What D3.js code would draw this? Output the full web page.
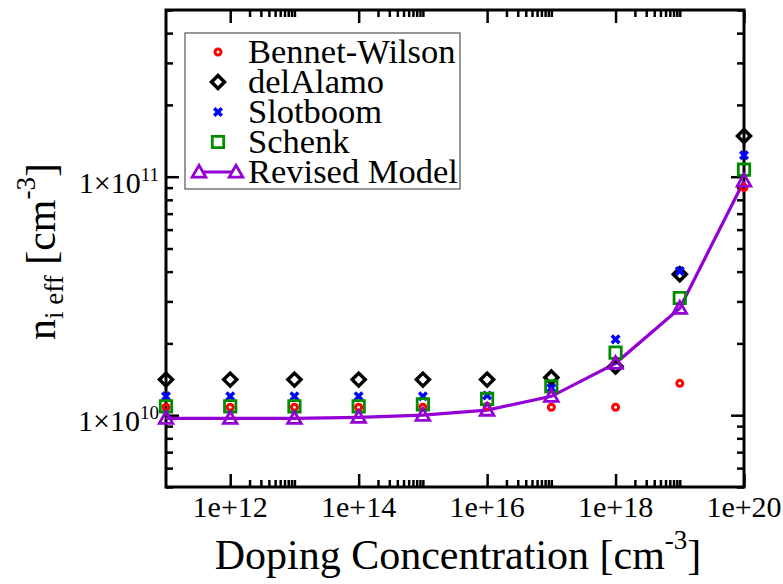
<!DOCTYPE html>
<html>
<head>
<meta charset="utf-8">
<script src="https://cdn.jsdelivr.net/npm/d3@7"></script>
<style>
  body { margin: 0; background: #fff; }
  text { font-family: "Liberation Serif", "Times New Roman", serif; fill: #000; }
</style>
</head>
<body>
<svg id="chart" width="783" height="584"></svg>
<script>
// doping concentration (cm^-3)
var doping = [1e11, 1e12, 1e13, 1e14, 1e15, 1e16, 1e17, 1e18, 1e19, 1e20];

// n_i eff values for each model
var bennetWilson = [1.08e10, 1.08e10, 1.08e10, 1.08e10, 1.08e10, 1.09e10, 1.08e10, 1.08e10, 1.36e10, 9.0e10];
var delAlamo     = [1.41e10, 1.41e10, 1.41e10, 1.41e10, 1.41e10, 1.41e10, 1.44e10, 1.60e10, 3.90e10, 1.48e11];
var slotboom     = [1.20e10, 1.20e10, 1.20e10, 1.20e10, 1.20e10, 1.21e10, 1.30e10, 2.08e10, 4.02e10, 1.23e11];
var schenk       = [1.09e10, 1.09e10, 1.09e10, 1.09e10, 1.11e10, 1.17e10, 1.32e10, 1.83e10, 3.10e10, 1.07e11];
var revised      = [9.7e9, 9.7e9, 9.7e9, 9.8e9, 1.0e10, 1.05e10, 1.20e10, 1.65e10, 2.81e10, 9.6e10];

var xMajor = [1e12, 1e14, 1e16, 1e18, 1e20];
var xLabels = ["1e+12", "1e+14", "1e+16", "1e+18", "1e+20"];
var yMajor = [1e10, 1e11];
var yLabelExp = ["10", "11"];

var legendNames = ["Bennet-Wilson", "delAlamo", "Slotboom", "Schenk", "Revised Model"];

var svg = d3.select("#chart");
var plotLeft = 166, plotRight = 744, plotTop = 10, plotBottom = 487;

var x = d3.scaleLog().domain([1e11, 1e20]).range([plotLeft, plotRight]);
var y = d3.scaleLog().domain([5e9, 5e11]).range([plotBottom, plotTop]);

// minor ticks: 2..10 times each labelled decade on x, 2..9 per decade on y
var xMinor = [];
xMajor.slice(0, 4).forEach(function(m) {
  for (var k = 2; k <= 10; k++) xMinor.push(m * k);
});
var yMinor = [];
[1e9, 1e10, 1e11].forEach(function(m) {
  for (var k = 2; k <= 9; k++) {
    var v = m * k;
    if (v >= 5e9 && v <= 5e11) yMinor.push(v);
  }
});

function addAxis(axis, tx, ty) {
  var g = svg.append("g").attr("transform", "translate(" + tx + "," + ty + ")").call(axis);
  g.select(".domain").remove();
  g.selectAll(".tick line").attr("stroke", "#000").attr("stroke-width", 2.5);
  g.selectAll(".tick text").remove();
  return g;
}

addAxis(d3.axisBottom(x).tickValues(xMajor).tickSize(-13), 0, plotBottom);
addAxis(d3.axisBottom(x).tickValues(xMinor).tickSize(-7), 0, plotBottom);
addAxis(d3.axisTop(x).tickValues(xMajor).tickSize(-13), 0, plotTop);
addAxis(d3.axisTop(x).tickValues(xMinor).tickSize(-7), 0, plotTop);
addAxis(d3.axisLeft(y).tickValues(yMajor).tickSize(-13), plotLeft, 0);
addAxis(d3.axisLeft(y).tickValues(yMinor).tickSize(-7), plotLeft, 0);
addAxis(d3.axisRight(y).tickValues(yMajor).tickSize(-13), plotRight, 0);
addAxis(d3.axisRight(y).tickValues(yMinor).tickSize(-7), plotRight, 0);

svg.append("rect")
  .attr("x", plotLeft).attr("y", plotTop)
  .attr("width", plotRight - plotLeft).attr("height", plotBottom - plotTop)
  .attr("fill", "none").attr("stroke", "#000").attr("stroke-width", 3);

// x tick labels
svg.selectAll(".xlab").data(xMajor).enter().append("text")
  .attr("x", function(d) { return x(d); })
  .attr("y", plotBottom + 30)
  .attr("text-anchor", "middle")
  .style("font-size", "30px")
  .text(function(d, i) { return xLabels[i]; });

// y tick labels 1x10^n
yMajor.forEach(function(v, i) {
  var t = svg.append("text")
    .attr("x", plotLeft - 7)
    .attr("y", y(v) + 16)
    .attr("text-anchor", "end")
    .style("font-size", "30px");
  t.append("tspan").text("1\u00d710");
  t.append("tspan").attr("dy", -12).style("font-size", "19px").text(yLabelExp[i]);
});

// axis titles
var xt = svg.append("text")
  .attr("x", (plotLeft + plotRight) / 2 + 3)
  .attr("y", 569)
  .attr("text-anchor", "middle")
  .style("font-size", "42px");
xt.append("tspan").text("Doping Concentration [cm");
xt.append("tspan").attr("dy", -20).style("font-size", "27px").text("-3");
xt.append("tspan").attr("dy", 20).text("]");

var yt = svg.append("text")
  .attr("transform", "translate(55," + ((plotTop + plotBottom) / 2 + 3) + ") rotate(-90)")
  .attr("text-anchor", "middle")
  .style("font-size", "42px");
yt.append("tspan").text("n");
yt.append("tspan").attr("dy", 8).style("font-size", "27px").text("i eff");
yt.append("tspan").attr("dy", -8).text(" [cm");
yt.append("tspan").attr("dy", -20).style("font-size", "27px").text("-3");
yt.append("tspan").attr("dy", 20).text("]");

// marker shapes
function circlePath(s) { return d3.symbol().type(d3.symbolCircle).size(Math.PI * s * s)(); }
function diamondPath(s) { return "M0," + (-s) + "L" + s + ",0L0," + s + "L" + (-s) + ",0Z"; }
function crossPath(s) { return "M" + (-s) + "," + (-s) + "L" + s + "," + s + "M" + s + "," + (-s) + "L" + (-s) + "," + s; }
function squarePath(s) { return "M" + (-s) + "," + (-s) + "H" + s + "V" + s + "H" + (-s) + "Z"; }
function trianglePath(s) { return "M0," + (-s) + "L" + s + "," + (s * 0.75) + "L" + (-s) + "," + (s * 0.75) + "Z"; }

var series = [
  { values: bennetWilson, color: "#ff0000", path: circlePath(3), width: 3 },
  { values: delAlamo, color: "#000000", path: diamondPath(6.5), width: 3.5 },
  { values: slotboom, color: "#0000ff", path: crossPath(3.8), width: 3.5 },
  { values: schenk, color: "#008b00", path: squarePath(5.7), width: 2.8 },
  { values: revised, color: "#9400d3", path: trianglePath(6.8), width: 2.8 }
];

// revised model line
var line = d3.line()
  .x(function(d, i) { return x(doping[i]); })
  .y(function(d) { return y(d); });
svg.append("path")
  .datum(revised)
  .attr("d", line)
  .attr("fill", "none")
  .attr("stroke", "#9400d3")
  .attr("stroke-width", 3.2);

series.forEach(function(s) {
  svg.append("g").selectAll("path").data(s.values).enter().append("path")
    .attr("transform", function(d, i) { return "translate(" + x(doping[i]) + "," + y(d) + ")"; })
    .attr("d", s.path)
    .attr("fill", "none")
    .attr("stroke", s.color)
    .attr("stroke-width", s.width);
});

// legend
var lg = svg.append("g");
lg.append("rect")
  .attr("x", 185).attr("y", 33).attr("width", 275).attr("height", 156)
  .attr("fill", "#fff").attr("stroke", "#555").attr("stroke-width", 1.2);
legendNames.forEach(function(name, i) {
  var cy = 52 + i * 30;
  var s = series[i];
  if (i === 4) {
    lg.append("line").attr("x1", 199).attr("x2", 236).attr("y1", cy).attr("y2", cy)
      .attr("stroke", s.color).attr("stroke-width", 3.2);
    [199, 236].forEach(function(mx) {
      lg.append("path").attr("transform", "translate(" + mx + "," + cy + ")")
        .attr("d", s.path).attr("fill", "#fff").attr("stroke", s.color).attr("stroke-width", s.width);
    });
  } else {
    lg.append("path").attr("transform", "translate(218," + cy + ")")
      .attr("d", s.path).attr("fill", "none").attr("stroke", s.color).attr("stroke-width", s.width);
  }
  lg.append("text").attr("x", 248).attr("y", cy + 11)
    .style("font-size", "34.5px").text(name);
});
</script>
</body>
</html>
